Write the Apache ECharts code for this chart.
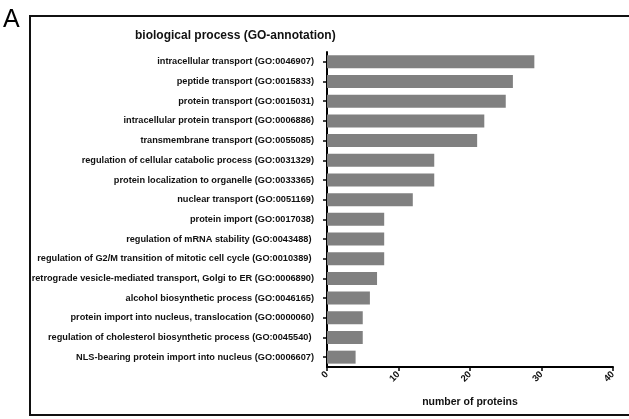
<!DOCTYPE html>
<html>
<head>
<meta charset="utf-8">
<script src="https://cdn.jsdelivr.net/npm/echarts@6/dist/echarts.min.js"></script>
<style>
  html, body { margin: 0; padding: 0; background: #fff; }
  #chart { width: 629px; height: 419px; }
</style>
</head>
<body>
<div id="chart"></div>
<script>
// GO biological process terms, top to bottom
const categories = [
  'intracellular transport (GO:0046907)',
  'peptide transport (GO:0015833)',
  'protein transport (GO:0015031)',
  'intracellular protein transport (GO:0006886)',
  'transmembrane transport (GO:0055085)',
  'regulation of cellular catabolic process (GO:0031329)',
  'protein localization to organelle (GO:0033365)',
  'nuclear transport (GO:0051169)',
  'protein import (GO:0017038)',
  'regulation of mRNA stability (GO:0043488) ',
  'regulation of G2/M transition of mitotic cell cycle (GO:0010389) ',
  'retrograde vesicle-mediated transport, Golgi to ER (GO:0006890)',
  'alcohol biosynthetic process (GO:0046165)',
  'protein import into nucleus, translocation (GO:0000060)',
  'regulation of cholesterol biosynthetic process (GO:0045540) ',
  'NLS-bearing protein import into nucleus (GO:0006607)'
];

// Number of proteins per term
const proteinCounts = [29, 26, 25, 22, 21, 15, 15, 12, 8, 8, 8, 7, 6, 5, 5, 4];

const xTicks = { min: 0, max: 40, interval: 10 };

const font = '"Liberation Sans", Arial, sans-serif';

const chart = echarts.init(document.getElementById('chart'), null, { renderer: 'canvas' });

chart.setOption({
  animation: false,
  backgroundColor: '#ffffff',
  grid: { left: 327, right: 16, top: 52, bottom: 52 },
  title: {
    text: 'biological process (GO-annotation)',
    left: 130,
    top: 25,
    textStyle: { fontFamily: font, fontSize: 12, fontWeight: 'bold', color: '#111' }
  },
  graphic: [
    { type: 'text', left: 3, top: 8, style: { text: 'A', font: '25px ' + font, fill: '#000' } },
    { type: 'polyline', shape: { points: [[640, 16], [30, 16], [30, 415], [640, 415]] },
      style: { stroke: '#111', lineWidth: 2, fill: null } }
  ],
  xAxis: {
    type: 'value',
    min: xTicks.min,
    max: xTicks.max,
    interval: xTicks.interval,
    name: 'number of proteins',
    nameLocation: 'middle',
    nameGap: 30,
    nameTextStyle: { fontFamily: font, fontSize: 10.5, fontWeight: 'bold', color: '#111' },
    axisLine: { show: true, lineStyle: { color: '#000', width: 2 } },
    axisTick: { show: true, length: 4, lineStyle: { color: '#000', width: 1.5 } },
    axisLabel: { rotate: 45, margin: 6, fontFamily: font, fontSize: 9.5, fontWeight: 'bold', color: '#111' },
    splitLine: { show: false }
  },
  yAxis: {
    type: 'category',
    inverse: true,
    data: categories,
    axisLine: { show: true, lineStyle: { color: '#000', width: 2 } },
    axisTick: { show: true, length: 4, alignWithLabel: true, lineStyle: { color: '#000', width: 1.5 } },
    axisLabel: { margin: 13, fontFamily: font, fontSize: 9.2, fontWeight: 'bold', color: '#111' }
  },
  series: [{
    type: 'bar',
    data: proteinCounts,
    barWidth: 13,
    itemStyle: { color: '#808080' }
  }]
});
</script>
</body>
</html>
